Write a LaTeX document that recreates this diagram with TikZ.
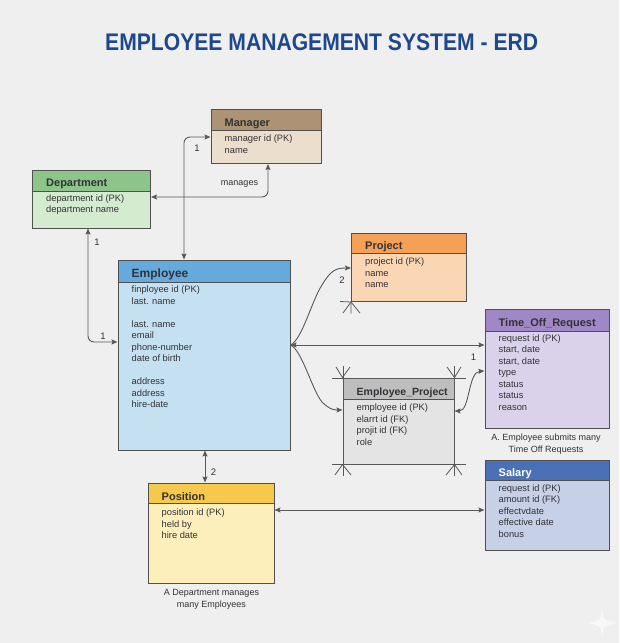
\documentclass[tikz,border=0pt]{standalone}
\usepackage{fontspec}
\usepackage{graphicx}
\setmainfont{Liberation Sans}
\usetikzlibrary{arrows.meta,fit}
\definecolor{bg}{RGB}{239,239,239}
\definecolor{titleblue}{RGB}{30,72,140}
\definecolor{boxline}{RGB}{80,80,80}
\definecolor{lnk}{RGB}{88,88,88}
\definecolor{txt}{RGB}{50,50,55}
\definecolor{mgrH}{RGB}{174,146,116}
\definecolor{mgrB}{RGB}{236,222,204}
\definecolor{depH}{RGB}{140,196,138}
\definecolor{depB}{RGB}{213,235,208}
\definecolor{empH}{RGB}{100,170,220}
\definecolor{empB}{RGB}{196,224,241}
\definecolor{prjH}{RGB}{244,160,86}
\definecolor{prjB}{RGB}{251,214,180}
\definecolor{torH}{RGB}{160,135,198}
\definecolor{torB}{RGB}{218,210,234}
\definecolor{epH}{RGB}{190,190,190}
\definecolor{epB}{RGB}{228,228,228}
\definecolor{salH}{RGB}{76,112,181}
\definecolor{salB}{RGB}{198,208,231}
\definecolor{posH}{RGB}{246,201,76}
\definecolor{posB}{RGB}{252,239,188}
\tikzset{
  ebox/.style={draw=boxline, line width=1pt, inner sep=0pt},
  htext/.style={anchor=base west, font=\fontsize{11}{13}\selectfont\bfseries, text=txt, inner sep=0pt},
  attr/.style={anchor=base west, font=\fontsize{9.3}{11}\selectfont, text=txt, inner sep=0pt},
  conn/.style={draw=lnk, line width=0.9pt, >={Stealth[length=6pt,width=5pt,inset=1pt]}},
  lbl/.style={font=\fontsize{9.5}{11}\selectfont, text=txt, inner sep=0pt},
  capt/.style={align=center, font=\fontsize{9}{11.7}\selectfont, text=txt, inner sep=0pt},
  foot/.style={draw=lnk, line width=0.8pt},
}
\newcommand\entity[8]{%
  \node[ebox, fill=#8, fit={(#2,#3) (#4,#5)}] (#1) {};
  \node[ebox, fill=#7, fit={(#2,#3) (#4,#6)}] (#1-h) {};
}
\newcommand\attrs[4]{%
  \foreach \t [count=\i from 0] in {#4} \node[attr] (#1-a\i) at (#2,#3+11.5*\i) {\t};
}
\begin{document}
\begin{tikzpicture}[x=1pt,y=-1pt]
\fill[bg] (0,0) rectangle (619,643);
\useasboundingbox (0,0) rectangle (619,643);

\node[font=\fontsize{24}{28}\selectfont\bfseries, text=titleblue, inner sep=0pt] (title) at (321.7,42.3) {\scalebox{0.88}[1]{EMPLOYEE MANAGEMENT SYSTEM - ERD}};

\coordinate (k1) at (184,137);
\coordinate (k2) at (268,197);
\coordinate (k3) at (88,342);
\coordinate (k4) at (300,345);
\coordinate (k5) at (300,268);
\coordinate (k6) at (300,410);
\coordinate (k7) at (460,411);
\coordinate (k8) at (460,371);
\coordinate (k9) at (300,510);
\coordinate (k10) at (205,470);

% entities
\entity{mgr}{211}{109.5}{321.5}{163.5}{130.5}{mgrH}{mgrB}
\node[htext] (mgr-t) at (224.5,126.5) {Manager};
\attrs{mgr}{224.5}{141.5}{manager id (PK),name}

\entity{dept}{32.5}{170}{150.5}{228}{191.5}{depH}{depB}
\node[htext] (dept-t) at (46,186.5) {Department};
\attrs{dept}{46}{201}{department id (PK),department name}

\entity{emp}{118}{260}{290}{450}{282}{empH}{empB}
\node[htext, font=\fontsize{12}{14}\selectfont\bfseries] (emp-t) at (131.5,277.5) {Employee};
\attrs{emp}{131.5}{292.5}{finployee id (PK),last. name,{},last. name,email,phone-number,date of birth,{},address,address,hire-date}

\entity{proj}{351.5}{233.5}{466.5}{301.5}{253.5}{prjH}{prjB}
\node[htext] (proj-t) at (365,249.5) {Project};
\attrs{proj}{365}{264.5}{project id (PK),name,name}

\entity{tor}{485}{309.5}{609}{428}{331}{torH}{torB}
\node[htext] (tor-t) at (498.5,326.5) {Time\_Off\_Request};
\attrs{tor}{498.5}{341}{request id (PK),{start, date},{start, date},type,status,status,reason}
\node[capt] (torcap) at (546,444) {A. Employee submits many\\Time Off Requests};

\entity{ep}{343}{378}{454}{464}{399}{epH}{epB}
\node[htext, font=\fontsize{10.5}{13}\selectfont\bfseries] (ep-t) at (356.5,395) {Employee\_Project};
\attrs{ep}{356.5}{410.5}{employee id (PK),elarrt id (FK),projit id (FK),role}

\entity{sal}{485}{460}{609}{550}{480}{salH}{salB}
\node[htext, text=white] (sal-t) at (498.5,476.5) {Salary};
\attrs{sal}{498.5}{491}{request id (PK),amount id (FK),effectvdate,effective date,bonus}

\entity{pos}{148.5}{483}{274}{583}{503.5}{posH}{posB}
\node[htext] (pos-t) at (161.5,500) {Position};
\attrs{pos}{161.5}{515.5}{position id (PK),held by,hire date}
\node[capt] (poscap) at (211.5,599) {A Department manages\\many Employees};

% connectors
\draw[conn,<->,rounded corners=6pt] (emp.north -| k1) |- (mgr.west |- k1);
\draw[conn,<->,rounded corners=6pt] (mgr.south -| k2) |- (dept.east |- k2);
\draw[conn,<->,rounded corners=6pt] (dept.south -| k3) |- (emp.west |- k3);
\draw[conn,<->] (emp.east |- k4) -- (tor.west |- k4);
\draw[conn,->] (emp.east |- k4) .. controls (302,340) and (312,300) .. (322,285) .. controls (331,270) and (336,268) .. (proj.west |- k5);
\draw[conn,->] (emp.east |- k4) .. controls (302,350) and (312,390) .. (322,402) .. controls (330,410) and (335,410) .. (ep.west |- k6);
\draw[conn,<->] (ep.east |- k7) .. controls (470,411) and (468,372) .. (tor.west |- k8);
\draw[conn,<->] (sal.west |- k9) -- (pos.east |- k9);
\draw[conn,<->] (emp.south -| k10) -- (pos.north -| k10);

% labels
\node[lbl] (l1) at (197,148) {1};
\node[lbl] (l2) at (97,242) {1};
\node[lbl] (l3) at (103,336) {1};
\node[lbl] (l4) at (473.5,357) {1};
\node[lbl] (l5) at (342,280) {2};
\node[lbl] (l6) at (213.5,472) {2};
\node[lbl, font=\fontsize{9}{11}\selectfont] (lman) at (239.5,184) {manages};

% crow's feet
\draw[foot] (340,301.5) -- (proj.south west) -- ++(0,11.5);
\draw[foot] (343,313) -- (proj.south west) -- (360,313);
\draw[foot] (332,378) -- (466,378);
\draw[foot] (332,464) -- (466,464);
\draw[foot] (343,366) -- (343,476);
\draw[foot] (454,366) -- (454,476);
\draw[foot] (336,367) -- (ep.north west) -- (350,367);
\draw[foot] (447,367) -- (ep.north east) -- (461,367);
\draw[foot] (335,475) -- (ep.south west) -- (351,475);
\draw[foot] (446,475) -- (ep.south east) -- (462,475);

% watermark sparkle
\fill[white, opacity=0.6] (602,608) .. controls (603,620) .. (617,623) .. controls (603,626) .. (602,638) .. controls (601,626) .. (588,623) .. controls (601,620) .. (602,608);
\end{tikzpicture}
\end{document}
